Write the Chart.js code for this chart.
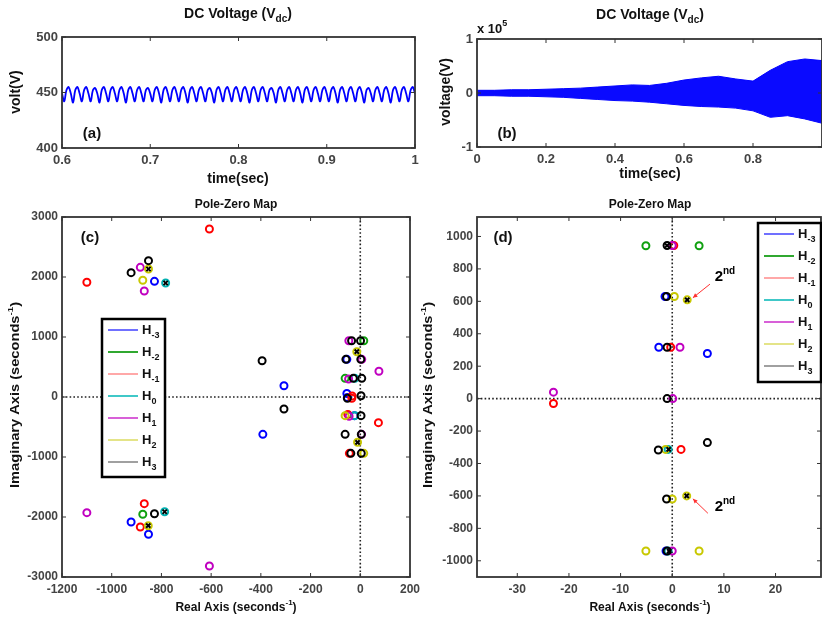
<!DOCTYPE html>
<html>
<head>
<meta charset="utf-8">
<script src="https://cdn.jsdelivr.net/npm/chart.js@4.4.0/dist/chart.umd.min.js"></script>
<style>
  html, body { margin: 0; padding: 0; background: #fff; width: 822px; height: 617px; overflow: hidden; }
  canvas { position: absolute; }
</style>
</head>
<body>
<canvas id="pa" width="430" height="190" style="left:0;top:0"></canvas>
<canvas id="pb" width="440" height="190" style="left:410px;top:0"></canvas>
<canvas id="pc" width="430" height="427" style="left:0;top:190px"></canvas>
<canvas id="pd" width="440" height="427" style="left:410px;top:190px"></canvas>
<script>
// (a) DC voltage, stable case: one sample every 2.5 ms from 0.6 s
const voltA = [
  449,442,452,455, 449,441,452,455, 449,442,452,455, 449,442,452,454, 449,441,452,455,
  449,442,452,455, 449,442,452,455, 449,441,452,455, 449,442,452,455, 449,442,452,454,
  449,442,452,455, 449,441,452,455, 449,442,452,455, 449,442,452,455, 449,441,452,455,
  449,442,452,455, 449,442,452,454, 449,441,452,455, 449,442,452,455, 449,442,452,455,
  449,442,452,455, 449,441,452,455, 449,442,452,455, 449,442,452,454, 449,441,452,455,
  449,442,452,455, 449,442,452,455, 449,441,452,455, 449,442,452,455, 449,442,452,455,
  449,442,452,455, 449,441,452,455, 449,442,452,455, 449,442,452,455, 449,441,452,454,
  449,442,452,455, 449,442,452,455, 449,441,452,455, 449,442,452,455, 449,442,452,455,
  449
];
const tA = voltA.map((v, i) => 0.6 + i * 0.0025);

// (b) DC voltage, unstable case: envelope of the oscillation (x 10^5 V)
const tB     = [0, 0.05, 0.1, 0.15, 0.2, 0.25, 0.3, 0.35, 0.4, 0.45, 0.5, 0.55, 0.6, 0.65, 0.7, 0.75, 0.8, 0.85, 0.9, 0.95, 1];
const upperB = [0.05, 0.05, 0.06, 0.06, 0.07, 0.08, 0.09, 0.11, 0.13, 0.15, 0.14, 0.18, 0.24, 0.28, 0.31, 0.26, 0.22, 0.42, 0.58, 0.63, 0.60];
const lowerB = [-0.05, -0.05, -0.06, -0.06, -0.07, -0.08, -0.10, -0.12, -0.14, -0.15, -0.17, -0.20, -0.23, -0.25, -0.26, -0.28, -0.33, -0.45, -0.42, -0.48, -0.56];

// (c) pole-zero map, [real, imag]
const cHm3 = [[-828,1928],[-922,-2083],[-852,-2288],[-307,188],[-392,-622],[-54,628],[-54,58],[-52,-8],[-24,-311]];
const cHm2 = [[-875,-1955],[14,938],[-61,311]];
const cHm1 = [[-1100,1912],[-607,2800],[-869,-1778],[-885,-2167],[73,-428],[-33,18],[-34,-22],[-50,-290],[-44,-939]];
const cH0  = [[-783,1900],[-787,-1912],[-22,311],[-22,-311]];
const cH1  = [[-885,2161],[-869,1767],[-1100,-1928],[-607,-2817],[75,430],[-46,938],[6,628],[-47,300],[-45,-320],[5,-622]];
const cH2  = [[-852,2133],[-875,1945],[-853,-2145],[-14,755],[-61,-311],[-11,-755],[14,-939]];
const cH3  = [[-922,2072],[-852,2272],[-828,-1945],[-395,605],[-307,-200],[-35,938],[1,938],[-58,628],[2,628],
              [-28,311],[6,311],[3,20],[-52,-22],[3,-311],[-61,-622],[4,-622],[-38,-939],[4,-939]];
const cH3x = [[-852,2133],[-783,1900],[-787,-1912],[-853,-2145],[-14,755],[-11,-755]];

// (d) pole-zero map, zoomed
const dHm3 = [[-2.6,317],[6.8,278],[-1.4,630],[-1.2,-940]];
const dHm2 = [[-5.1,943],[5.2,943]];
const dHm1 = [[0.3,944],[-0.3,317],[-23,-30],[1.7,-313]];
const dH0  = [[-0.8,-313],[-0.8,-940]];
const dH1  = [[0,944],[1.5,317],[-23,40],[0,-940],[0.1,0]];
const dH2  = [[2.9,609],[0.4,630],[-1.3,-313],[0,-619],[2.8,-600],[-5.1,-940],[5.2,-940]];
const dH3  = [[-1,944],[-1.1,630],[-1,317],[-1,0],[6.8,-271],[-2.7,-317],[-1.1,-619],[-1,-940]];
const dH3x = [[2.9,609],[2.8,-600],[-0.7,-313],[-0.6,-940],[-1,944]];

// tick labels
const xTicksA = [0.6, 0.7, 0.8, 0.9, 1];
const yTicksA = [400, 450, 500];
const xTicksB = [0, 0.2, 0.4, 0.6, 0.8];
const yTicksB = [-1, 0, 1];
const xTicksC = [-1200, -1000, -800, -600, -400, -200, 0, 200];
const yTicksC = [-3000, -2000, -1000, 0, 1000, 2000, 3000];
const xTicksD = [-30, -20, -10, 0, 10, 20];
const yTicksD = [-1000, -800, -600, -400, -200, 0, 200, 400, 600, 800, 1000];

const legendNames = ['-3', '-2', '-1', '0', '1', '2', '3'];
const markColors  = ['#0000ff', '#10a010', '#ff0000', '#00b0b0', '#c000c0', '#c8c800', '#000000'];
const legendLines = ['#7070ff', '#30a830', '#ffa8a8', '#40c8c8', '#d860d8', '#e4e488', '#a0a0a0'];

const FONT = '"Liberation Sans", Arial, Helvetica, sans-serif';

// text with sub (-1) / superscript (1) parts
function rich(ctx, parts, x, y, size, opt) {
  opt = opt || {};
  ctx.save();
  ctx.translate(x, y);
  if (opt.rot) ctx.rotate(opt.rot);
  if (opt.sx) ctx.scale(opt.sx, 1);
  const f = k => 'bold ' + (k ? Math.round(size * 0.68) : size) + 'px ' + FONT;
  let w = 0;
  parts.forEach(p => { ctx.font = f(p[1]); w += ctx.measureText(p[0]).width; });
  let cx = opt.align === 'left' ? 0 : -w / 2;
  ctx.fillStyle = opt.color || '#000';
  ctx.textBaseline = 'middle';
  ctx.textAlign = 'left';
  parts.forEach(p => {
    ctx.font = f(p[1]);
    const dy = p[1] > 0 ? -size * 0.4 : p[1] < 0 ? size * 0.4 : 0;
    ctx.fillText(p[0], cx, dy);
    cx += ctx.measureText(p[0]).width;
  });
  ctx.restore();
}

const matlab = {
  id: 'matlab',
  beforeDatasetsDraw(chart, args, o) {
    if (!o.zeroLines) return;
    const { ctx, chartArea: a, scales: { x, y } } = chart;
    const px = x.getPixelForValue(0), py = y.getPixelForValue(0);
    ctx.save();
    ctx.strokeStyle = '#222';
    ctx.lineWidth = 1.6;
    ctx.setLineDash([1.6, 2.2]);
    ctx.beginPath();
    ctx.moveTo(a.left, py); ctx.lineTo(a.right, py);
    ctx.moveTo(px, a.top); ctx.lineTo(px, a.bottom);
    ctx.stroke();
    ctx.restore();
  },
  afterDatasetsDraw(chart, args, o) {
    const { ctx, chartArea: a, scales: { x, y } } = chart;
    ctx.save();
    // box and inward ticks
    ctx.strokeStyle = '#333';
    ctx.lineWidth = 1;
    ctx.beginPath();
    x.ticks.forEach(t => {
      const p = x.getPixelForValue(t.value);
      ctx.moveTo(p, a.bottom); ctx.lineTo(p, a.bottom - 4);
      ctx.moveTo(p, a.top); ctx.lineTo(p, a.top + 4);
    });
    y.ticks.forEach(t => {
      const p = y.getPixelForValue(t.value);
      ctx.moveTo(a.left, p); ctx.lineTo(a.left + 4, p);
      ctx.moveTo(a.right, p); ctx.lineTo(a.right - 4, p);
    });
    ctx.stroke();
    ctx.lineWidth = 1.8;
    ctx.strokeRect(a.left, a.top, a.right - a.left, a.bottom - a.top);

    // arrows and notes in data coordinates
    (o.arrows || []).forEach(ar => {
      const x0 = x.getPixelForValue(ar[0][0]), y0 = y.getPixelForValue(ar[0][1]);
      const x1 = x.getPixelForValue(ar[1][0]), y1 = y.getPixelForValue(ar[1][1]);
      const ang = Math.atan2(y1 - y0, x1 - x0);
      ctx.strokeStyle = '#ff3030';
      ctx.fillStyle = '#ff3030';
      ctx.lineWidth = 1;
      ctx.beginPath(); ctx.moveTo(x0, y0); ctx.lineTo(x1, y1); ctx.stroke();
      ctx.beginPath();
      ctx.moveTo(x1, y1);
      ctx.lineTo(x1 - 5 * Math.cos(ang - 0.45), y1 - 5 * Math.sin(ang - 0.45));
      ctx.lineTo(x1 - 5 * Math.cos(ang + 0.45), y1 - 5 * Math.sin(ang + 0.45));
      ctx.closePath(); ctx.fill();
    });
    (o.notes || []).forEach(n => {
      rich(ctx, n.t, x.getPixelForValue(n.x), y.getPixelForValue(n.y), 15);
    });

    // legend box
    if (o.legend) {
      const L = o.legend;
      ctx.fillStyle = '#fff';
      ctx.fillRect(L.x - o.ox, L.y - o.oy, L.w, L.h);
      ctx.strokeStyle = '#000';
      ctx.lineWidth = 2.5;
      ctx.strokeRect(L.x - o.ox, L.y - o.oy, L.w, L.h);
      legendNames.forEach((nm, i) => {
        const ry = L.row0 + i * L.dy - o.oy;
        ctx.strokeStyle = legendLines[i];
        ctx.lineWidth = 2;
        ctx.beginPath();
        ctx.moveTo(L.x + 6 - o.ox, ry); ctx.lineTo(L.x + 36 - o.ox, ry);
        ctx.stroke();
        rich(ctx, [['H', 0], [nm, -1]], L.x + 40 - o.ox, ry, 13, { align: 'left', color: '#111' });
      });
    }

    // titles, labels
    (o.texts || []).forEach(t => {
      rich(ctx, t.t, t.x - o.ox, t.y - o.oy, t.size, { rot: t.rot, sx: t.sx, align: t.align, color: t.color || '#111' });
    });
    ctx.restore();
  }
};
Chart.register(matlab);

const fmt = v => String(Math.round(v * 1000) / 1000);

function options(p) {
  const tickFont = { family: FONT, size: p.fs, weight: 'bold' };
  return {
    responsive: false,
    animation: false,
    events: [],
    layout: { padding: { left: 0, top: p.top, right: p.right, bottom: 0 } },
    plugins: { legend: { display: false }, tooltip: { enabled: false }, matlab: p.matlab },
    scales: {
      x: {
        type: 'linear', min: p.x[0], max: p.x[1],
        afterBuildTicks: s => { s.ticks = p.xt.map(v => ({ value: v })); },
        afterFit: s => { s.height = p.xh; },
        grid: { display: false, drawTicks: false }, border: { display: false },
        ticks: { autoSkip: false, maxRotation: 0, padding: 5, color: '#444', font: tickFont, callback: fmt }
      },
      y: {
        type: 'linear', min: p.y[0], max: p.y[1],
        afterBuildTicks: s => { s.ticks = p.yt.map(v => ({ value: v })); },
        afterFit: s => { s.width = p.yw; },
        grid: { display: false, drawTicks: false }, border: { display: false },
        ticks: { autoSkip: false, padding: 4, color: '#444', font: tickFont, callback: fmt }
      }
    }
  };
}

const pts = arr => arr.map(p => ({ x: p[0], y: p[1] }));
function pzSets(list, xs) {
  const sets = [{ data: pts(xs), pointStyle: 'crossRot', pointRadius: 3, borderWidth: 2, borderColor: '#000', backgroundColor: '#000' }];
  for (let i = list.length - 1; i >= 0; i--) {
    sets.push({ data: pts(list[i]), pointStyle: 'circle', pointRadius: 3.5, borderWidth: 2,
                borderColor: markColors[i], backgroundColor: 'rgba(0,0,0,0)' });
  }
  return sets;
}

const pzTitle = [['Pole-Zero Map', 0]];
const imagLabel = [['Imaginary Axis (seconds', 0], ['-1', 1], [')', 0]];
const realLabel = [['Real Axis (seconds', 0], ['-1', 1], [')', 0]];
const dcTitle = [['DC Voltage (V', 0], ['dc', -1], [')', 0]];

new Chart(document.getElementById('pa'), {
  type: 'line',
  data: { datasets: [{ data: voltA.map((v, i) => ({ x: tA[i], y: v })), borderColor: '#0000ff', borderWidth: 1.8, pointRadius: 0, tension: 0.35 }] },
  options: options({
    top: 37, right: 15, yw: 62, xh: 42, fs: 13, x: [0.6, 1], y: [400, 500], xt: xTicksA, yt: yTicksA,
    matlab: { ox: 0, oy: 0, texts: [
      { t: dcTitle, x: 238, y: 14, size: 14 },
      { t: [['volt(V)', 0]], x: 16, y: 92, size: 14, rot: -Math.PI / 2 },
      { t: [['time(sec)', 0]], x: 238, y: 179, size: 14 },
      { t: [['(a)', 0]], x: 92, y: 134, size: 15 }
    ] }
  })
});

new Chart(document.getElementById('pb'), {
  type: 'line',
  data: { datasets: [
    { data: upperB.map((v, i) => ({ x: tB[i], y: v })), borderColor: '#0000ff', borderWidth: 1, pointRadius: 0, fill: '+1', backgroundColor: '#0a0aff' },
    { data: lowerB.map((v, i) => ({ x: tB[i], y: v })), borderColor: '#0000ff', borderWidth: 1, pointRadius: 0, fill: false }
  ] },
  options: options({
    top: 39, right: 28, yw: 67, xh: 43, fs: 13, x: [0, 1], y: [-1, 1], xt: xTicksB, yt: yTicksB,
    matlab: { ox: 410, oy: 0, texts: [
      { t: dcTitle, x: 650, y: 15, size: 14 },
      { t: [['x 10', 0], ['5', 1]], x: 477, y: 29, size: 13, align: 'left' },
      { t: [['voltage(V)', 0]], x: 446, y: 92, size: 14, rot: -Math.PI / 2 },
      { t: [['time(sec)', 0]], x: 650, y: 174, size: 14 },
      { t: [['(b)', 0]], x: 507, y: 134, size: 15 }
    ] }
  })
});

new Chart(document.getElementById('pc'), {
  type: 'scatter',
  data: { datasets: pzSets([cHm3, cHm2, cHm1, cH0, cH1, cH2, cH3], cH3x) },
  options: options({
    top: 27, right: 20, yw: 62, xh: 40, fs: 12, x: [-1200, 200], y: [-3000, 3000], xt: xTicksC, yt: yTicksC,
    matlab: { ox: 0, oy: 190, zeroLines: true,
      legend: { x: 102, y: 319, w: 63, h: 158, row0: 330, dy: 22 },
      texts: [
        { t: pzTitle, x: 236, y: 205, size: 12 },
        { t: [['(c)', 0]], x: 90, y: 238, size: 15 },
        { t: imagLabel, x: 16, y: 395, size: 12, sx: 1.22, rot: -Math.PI / 2 },
        { t: realLabel, x: 236, y: 608, size: 12 }
      ] }
  })
});

new Chart(document.getElementById('pd'), {
  type: 'scatter',
  data: { datasets: pzSets([dHm3, dHm2, dHm1, dH0, dH1, dH2, dH3], dH3x) },
  options: options({
    top: 27, right: 29, yw: 67, xh: 40, fs: 12, x: [-37.8, 28.8], y: [-1100, 1120], xt: xTicksD, yt: yTicksD,
    matlab: { ox: 410, oy: 190, zeroLines: true,
      legend: { x: 758, y: 223, w: 63, h: 159, row0: 234, dy: 22 },
      arrows: [[[7.3, 706], [4.0, 622]], [[6.9, -707], [4.0, -618]]],
      notes: [{ t: [['2', 0], ['nd', 1]], x: 10.2, y: 750 }, { t: [['2', 0], ['nd', 1]], x: 10.2, y: -670 }],
      texts: [
        { t: pzTitle, x: 650, y: 205, size: 12 },
        { t: [['(d)', 0]], x: 503, y: 238, size: 15 },
        { t: imagLabel, x: 429, y: 395, size: 12, sx: 1.22, rot: -Math.PI / 2 },
        { t: realLabel, x: 650, y: 608, size: 12 }
      ] }
  })
});
</script>
</body>
</html>
